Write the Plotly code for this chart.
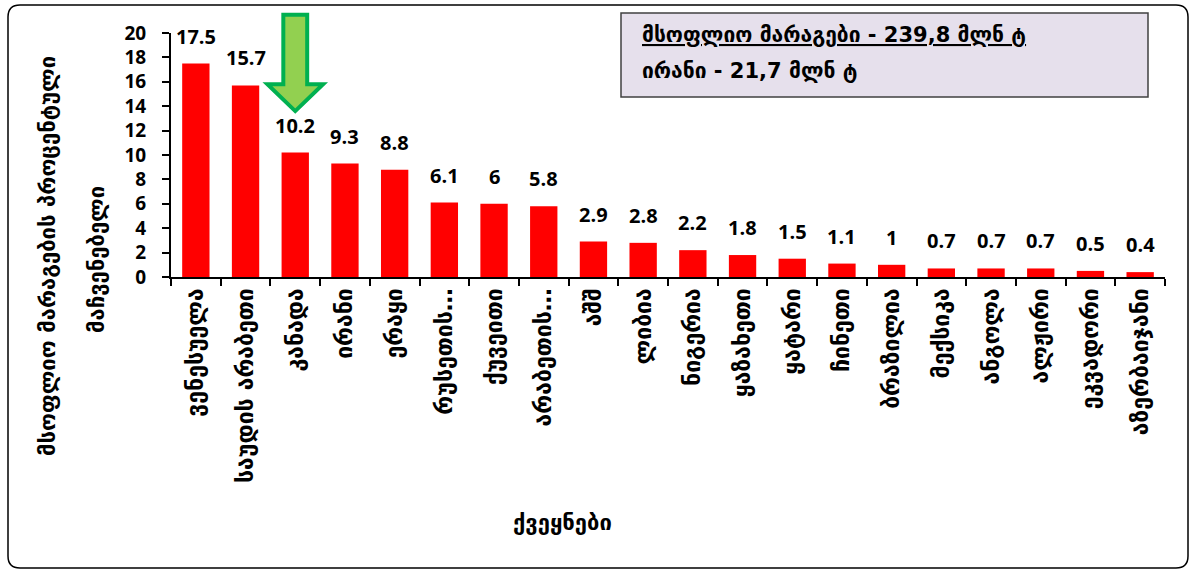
import plotly.graph_objects as go

categories = ["ვენესუელა", "საუდის არაბეთი", "კანადა", "ირანი", "ერაყი", "რუსეთის…",
              "ქუვეითი", "არაბეთის…", "აშშ", "ლიბია", "ნიგერია", "ყაზახეთი", "ყატარი",
              "ჩინეთი", "ბრაზილია", "მექსიკა", "ანგოლა", "ალჟირი", "ეკვადორი", "აზერბაიჯანი"]
values = [17.5, 15.7, 10.2, 9.3, 8.8, 6.1, 6, 5.8, 2.9, 2.8, 2.2, 1.8, 1.5, 1.1, 1, 0.7, 0.7, 0.7, 0.5, 0.4]
y_ticks = [0, 2, 4, 6, 8, 10, 12, 14, 16, 18, 20]
y_title_1 = "მსოფლიო მარაგების პროცენტული"
y_title_2 = "მაჩვენებელი"
x_title = "ქვეყნები"
note_1 = "მსოფლიო მარაგები - 239,8 მლნ ტ"
note_2 = "ირანი - 21,7 მლნ ტ"
highlight = "კანადა"

W, H = 1197, 574
L, R, T, B = 171, 32, 33, 297
PW, PH = W - L - R, H - T - B


def px(x):
    return (x - L) / PW


def py(y):
    return (H - B - y) / PH


FONT = "DejaVu Sans, Open Sans, sans-serif"
NUMFONT = "Open Sans, sans-serif"
GEO = 21

fig = go.Figure()
fig.add_trace(go.Bar(
    x=categories, y=values, marker=dict(color="#FF0000", line=dict(width=0)),
    hoverinfo="x+y",
))

# value labels above bars
for c, val in zip(categories, values):
    fig.add_annotation(x=c, y=val, xref="x", yref="y", text=f"{val:g}", showarrow=False,
                       xanchor="center", yanchor="bottom", yshift=12,
                       font=dict(family=NUMFONT, size=20, color="#000000", weight="bold"))

ymax = y_ticks[-1]
# highlight arrow over the selected category
i = categories.index(highlight)
v = values[i]
tip = (v + 3.4) / ymax
base = (v + 5.6) / ymax
top = (v + 11.3) / ymax
sw, hw = 0.24, 0.56
path = (f"M {i - sw} {top} L {i + sw} {top} L {i + sw} {base} L {i + hw} {base} "
        f"L {i} {tip} L {i - hw} {base} L {i - sw} {base} Z")
fig.add_shape(type="path", xref="x", yref="paper", path=path,
              fillcolor="#92D050", line=dict(color="#00B050", width=4), layer="above")

# note box
fig.add_shape(type="rect", xref="paper", yref="paper",
              x0=px(621), x1=px(1148), y0=py(97), y1=py(13),
              fillcolor="#E6E0EC", line=dict(color="#404040", width=1.5))
fig.add_annotation(xref="paper", yref="paper", x=px(640), y=py(35), xanchor="left", yanchor="middle",
                   text=f"<u>{note_1}</u>", showarrow=False,
                   font=dict(family=FONT, size=GEO, color="#000000", weight="bold"))
fig.add_annotation(xref="paper", yref="paper", x=px(640), y=py(71), xanchor="left", yanchor="middle",
                   text=note_2, showarrow=False,
                   font=dict(family=FONT, size=GEO, color="#000000", weight="bold"))

# outer frame
x0, x1, y0, y1, r = 8, 1188, 5, 568, 12
frame = (f"M {px(x0 + r)} {py(y0)} L {px(x1 - r)} {py(y0)} Q {px(x1)} {py(y0)} {px(x1)} {py(y0 + r)} "
         f"L {px(x1)} {py(y1 - r)} Q {px(x1)} {py(y1)} {px(x1 - r)} {py(y1)} "
         f"L {px(x0 + r)} {py(y1)} Q {px(x0)} {py(y1)} {px(x0)} {py(y1 - r)} "
         f"L {px(x0)} {py(y0 + r)} Q {px(x0)} {py(y0)} {px(x0 + r)} {py(y0)} Z")
fig.add_shape(type="path", xref="paper", yref="paper", path=frame,
              line=dict(color="#000000", width=1.5), layer="below")

# axis titles
fig.add_annotation(xref="paper", yref="paper", x=px(47), y=py(256), textangle=-90,
                   xanchor="center", yanchor="middle",
                   text=y_title_1, showarrow=False,
                   font=dict(family=FONT, size=22, color="#000000", weight="bold"))
fig.add_annotation(xref="paper", yref="paper", x=px(96), y=py(260), textangle=-90,
                   xanchor="center", yanchor="middle",
                   text=y_title_2, showarrow=False,
                   font=dict(family=FONT, size=22, color="#000000", weight="bold"))
fig.add_annotation(xref="paper", yref="paper", x=px(562), y=py(522),
                   xanchor="center", yanchor="middle",
                   text=x_title, showarrow=False,
                   font=dict(family=FONT, size=22, color="#000000", weight="bold"))

fig.update_layout(
    width=W, height=H, margin=dict(l=L, r=R, t=T, b=B, autoexpand=False),
    paper_bgcolor="#FFFFFF", plot_bgcolor="#FFFFFF", showlegend=False,
    bargap=0.45,
    font=dict(family=FONT, color="#000000"),
)
fig.update_xaxes(type="category", showline=True, linecolor="#000000", linewidth=2,
                 ticks="outside", tickson="boundaries", ticklen=7, tickwidth=2, tickcolor="#000000",
                 tickangle=-90, showgrid=False,
                 tickfont=dict(family=FONT, size=23, color="#000000", weight="bold"))
fig.update_yaxes(range=[0, ymax], tickvals=y_ticks, showline=True, linecolor="#000000", linewidth=2,
                 ticks="outside", ticklen=7, tickwidth=2, tickcolor="#000000", showgrid=False,
                 zeroline=False, ticklabelstandoff=12,
                 tickfont=dict(family=NUMFONT, size=19, color="#000000", weight="bold"))

fig.write_html("out.html", config={"displayModeBar": False},
               post_script="document.body.style.margin='0';document.body.style.padding='0';")
